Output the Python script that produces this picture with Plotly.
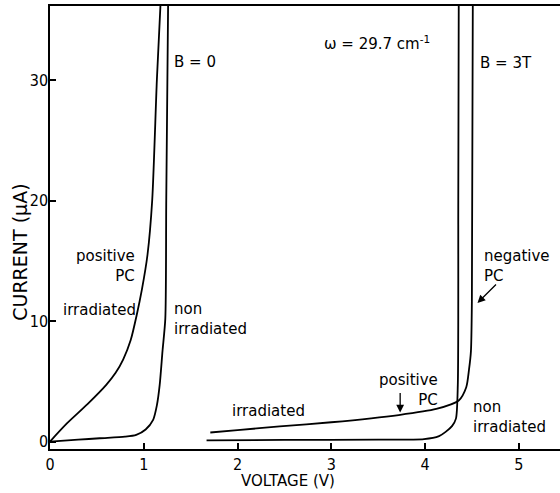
import plotly.graph_objects as go

# B = 0, irradiated (positive PC)
b0_irr_v = [0.0, 0.18, 0.4, 0.6, 0.7, 0.78, 0.86, 0.925, 0.98, 1.04, 1.09, 1.14, 1.18]
b0_irr_i = [0.0, 1.5, 3.1, 4.7, 5.7, 6.8, 8.4, 10.5, 12.6, 15.5, 20.0, 30.0, 36.5]

# B = 0, non irradiated
b0_non_v = [0.0, 0.3, 0.53, 0.8, 0.92, 1.02, 1.10, 1.14, 1.17, 1.20, 1.23, 1.24, 1.26]
b0_non_i = [0.0, 0.15, 0.27, 0.4, 0.55, 1.0, 1.8, 3.0, 4.7, 7.5, 10.2, 20.0, 36.5]

# B = 3T, irradiated
b3_irr_v = [1.71, 2.0, 2.45, 3.0, 3.72, 4.12, 4.36, 4.44, 4.47, 4.49, 4.50, 4.51]
b3_irr_i = [0.75, 0.95, 1.25, 1.6, 2.2, 2.7, 3.4, 4.5, 6.0, 7.5, 11.6, 36.5]

# B = 3T, non irradiated
b3_non_v = [1.67, 2.5, 3.5, 3.99, 4.15, 4.22, 4.29, 4.33, 4.35, 4.355, 4.36]
b3_non_i = [0.1, 0.13, 0.15, 0.2, 0.45, 0.8, 1.3, 1.9, 4.7, 20.0, 36.5]

x_ticks = [0, 1, 2, 3, 4, 5]
y_ticks = [0, 10, 20, 30]

FONT = "DejaVu Sans, Liberation Sans, sans-serif"
NUM_FONT = "Liberation Sans Narrow, DejaVu Sans Condensed, Liberation Sans, sans-serif"

fig = go.Figure()
for xs, ys in [(b0_irr_v, b0_irr_i), (b0_non_v, b0_non_i),
               (b3_irr_v, b3_irr_i), (b3_non_v, b3_non_i)]:
    fig.add_trace(go.Scatter(x=xs, y=ys, mode="lines",
                             line=dict(color="black", width=1.8, shape="spline", smoothing=0.7),
                             showlegend=False, hoverinfo="skip"))

def txt(x, y, t, xanchor="center", align="center", size=15, angle=0, xref="x", yref="y"):
    fig.add_annotation(x=x, y=y, text=t, showarrow=False, xanchor=xanchor, yanchor="middle",
                       align=align, textangle=angle, xref=xref, yref=yref,
                       font=dict(family=FONT, size=size, color="black"))

txt(1.55, 31.5, "B = 0")
txt(3.49, 33.1, "ω = 29.7 cm<sup>-1</sup>")
txt(4.86, 31.4, "B = 3T")
txt(0.93, 14.6, "positive<br>PC", xanchor="right", align="right")
txt(0.53, 10.9, "irradiated")
txt(1.30, 10.2, "non<br>irradiated", xanchor="left", align="left")
txt(2.33, 2.5, "irradiated")
txt(4.16, 4.3, "positive<br>PC", xanchor="right", align="right")
txt(4.49, 2.0, "non<br>irradiated", xanchor="left", align="left")
txt(4.61, 14.6, "negative<br>PC", xanchor="left", align="left")

# arrows
fig.add_annotation(x=3.735, y=2.4, ax=0, ay=-21, text="", showarrow=True,
                   arrowhead=2, arrowsize=1.2, arrowwidth=1.3, arrowcolor="black")
fig.add_annotation(x=4.56, y=11.5, ax=20, ay=-20, text="", showarrow=True,
                   arrowhead=2, arrowsize=1.2, arrowwidth=1.3, arrowcolor="black")

# axis titles (paper coordinates)
txt(-0.059, 0.445, "CURRENT (µA)", size=19, angle=-90, xref="paper", yref="paper")
txt(0.467, -0.073, "VOLTAGE (V)", size=15, xref="paper", yref="paper")

fig.update_layout(
    width=560, height=493,
    margin=dict(l=50, r=0, t=6, b=44, autoexpand=False),
    paper_bgcolor="white", plot_bgcolor="white",
    xaxis=dict(range=[0, 5.44], tickvals=x_ticks, ticks="inside", ticklen=6, tickwidth=1.5,
               tickcolor="black", showline=True, linecolor="black", linewidth=1.5, mirror=True,
               showgrid=False, zeroline=False, automargin=False,
               tickfont=dict(family=NUM_FONT, size=16, color="black")),
    yaxis=dict(range=[-0.62, 36.14], tickvals=y_ticks, ticks="inside", ticklen=6, tickwidth=1.5,
               tickcolor="black", showline=True, linecolor="black", linewidth=1.5,
               showgrid=False, zeroline=False, automargin=False, ticklabelstandoff=-3,
               tickfont=dict(family=NUM_FONT, size=16, color="black")),
)

fig.write_html("out.html", config={"displayModeBar": False},
               post_script="document.body.style.margin='0px';")
